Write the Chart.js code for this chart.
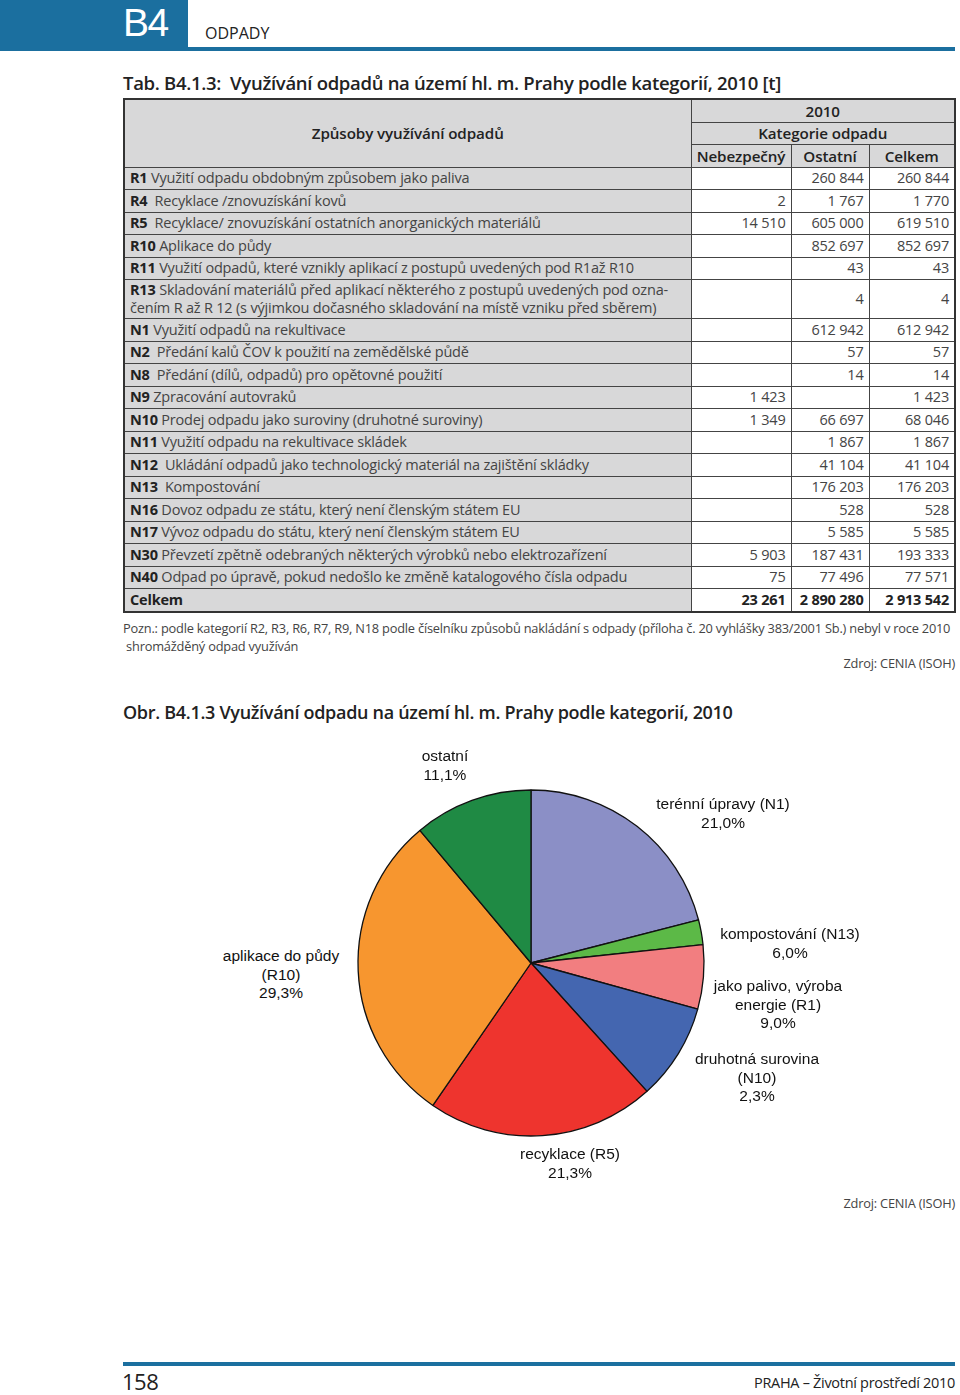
<!DOCTYPE html>
<html lang="cs">
<head>
<meta charset="utf-8">
<script src="https://cdn.jsdelivr.net/npm/chart.js@4"></script>
<style>
  body { margin: 0; background: #fff; }
  #page { position: relative; width: 960px; height: 1395px; font-family: "Open Sans", "Noto Sans", sans-serif; color: #333; overflow: hidden; }
  .abs { position: absolute; }
  #tab { position: absolute; left: 123px; top: 98px; width: 831px; border-collapse: collapse; table-layout: fixed; border: 2.5px solid #333; font-size: 14.5px; letter-spacing: -0.2px; }
  #tab td, #tab th { border: 1px solid #444; padding: 0 5px; height: 21.5px; line-height: 16px; white-space: nowrap; }
  #tab th { background: #d8d8d9; font-weight: 600; color: #222; font-size: 15.2px; text-align: center; letter-spacing: -0.1px; }
  #tab td.n { text-align: right; background: #fff; color: #444; }
  #tab td.t { background: #d8d8d9; color: #444; }
  #tab td.t b { color: #222; font-weight: 700; }
  #tab td.two { height: 38px; line-height: 18px; }
  #tab tr.tot td { font-weight: 700; color: #222; }
  .lbl { position: absolute; font-family: "Liberation Sans", Arial, sans-serif; font-size: 15.5px; line-height: 18.6px; color: #111; text-align: center; transform: translateX(-50%); white-space: nowrap; }
</style>
</head>
<body>
<div id="page">
  <div class="abs" style="left:0;top:0;width:188px;height:51px;background:#1b6f9f;">
    <div style="position:absolute;left:123px;top:1px;font-family:'Liberation Sans',Arial,sans-serif;font-size:39px;color:#fff;letter-spacing:-1.5px;line-height:44px;">B4</div>
  </div>
  <div class="abs" style="left:188px;top:47px;width:767px;height:4px;background:#1b6f9f;"></div>
  <div class="abs" style="left:205px;top:22px;font-size:16px;color:#222;">ODPADY</div>

  <div class="abs" style="left:123px;top:70px;font-size:18.5px;font-weight:600;color:#222;letter-spacing:-0.3px;">Tab. B4.1.3:&nbsp; Využívání odpadů na území hl. m. Prahy podle kategorií, 2010 [t]</div>

  <table id="tab">
    <colgroup><col style="width:567px"><col style="width:100px"><col style="width:78px"><col style="width:86px"></colgroup>
    <tbody id="tbody">
      <tr><th rowspan="3">Způsoby využívání odpadů</th><th colspan="3">2010</th></tr>
      <tr><th colspan="3">Kategorie odpadu</th></tr>
      <tr><th>Nebezpečný</th><th>Ostatní</th><th>Celkem</th></tr>
    </tbody>
  </table>

  <div class="abs" style="left:123px;top:620px;font-size:12.8px;color:#444;letter-spacing:-0.2px;line-height:17.5px;">Pozn.: podle kategorií R2, R3, R6, R7, R9, N18 podle číselníku způsobů nakládání s odpady (příloha č. 20 vyhlášky 383/2001 Sb.) nebyl v roce 2010<br>&nbsp;shromážděný odpad využíván</div>
  <div class="abs" style="right:5px;top:654px;font-size:12.8px;color:#444;letter-spacing:-0.2px;">Zdroj: CENIA (ISOH)</div>

  <div class="abs" style="left:123px;top:700px;font-size:18px;font-weight:600;color:#222;letter-spacing:-0.3px;">Obr. B4.1.3 Využívání odpadu na území hl. m. Prahy podle kategorií, 2010</div>

  <div class="abs" style="left:341px;top:773px;width:380px;height:380px;"><canvas id="pie" width="380" height="380"></canvas></div>
  <div id="labels"></div>

  <div class="abs" style="right:5px;top:1194px;font-size:12.8px;color:#444;letter-spacing:-0.2px;">Zdroj: CENIA (ISOH)</div>

  <div class="abs" style="left:123px;top:1362px;width:832px;height:4px;background:#1b6f9f;"></div>
  <div class="abs" style="left:122px;top:1366px;font-size:22px;color:#222;letter-spacing:-0.5px;">158</div>
  <div class="abs" style="right:5px;top:1373px;font-size:14.5px;color:#222;letter-spacing:-0.3px;">PRAHA – Životní prostředí 2010</div>
</div>

<script>
// tabulka – kódy, popisy a hodnoty [t]
const codes = ["R1", "R4", "R5", "R10", "R11", "R13", "N1", "N2", "N8", "N9", "N10", "N11", "N12", "N13", "N16", "N17", "N30", "N40"];
const descs = [
  "Využití odpadu obdobným způsobem jako paliva",
  "&nbsp;Recyklace /znovuzískání kovů",
  "&nbsp;Recyklace/ znovuzískání ostatních anorganických materiálů",
  "Aplikace do půdy",
  "Využití odpadů, které vznikly aplikací z postupů uvedených pod R1až R10",
  "Skladování materiálů před aplikací některého z postupů uvedených pod ozna-<br>čením R až R 12 (s výjimkou dočasného skladování na místě vzniku před sběrem)",
  "Využití odpadů na rekultivace",
  "&nbsp;Předání kalů ČOV k použití na zemědělské půdě",
  "&nbsp;Předání (dílů, odpadů) pro opětovné použití",
  "Zpracování autovraků",
  "Prodej odpadu jako suroviny (druhotné suroviny)",
  "Využití odpadu na rekultivace skládek",
  "&nbsp;Ukládání odpadů jako technologický materiál na zajištění skládky",
  "&nbsp;Kompostování",
  "Dovoz odpadu ze státu, který není členským státem EU",
  "Vývoz odpadu do státu, který není členským státem EU",
  "Převzetí zpětně odebraných některých výrobků nebo elektrozařízení",
  "Odpad po úpravě, pokud nedošlo ke změně katalogového čísla odpadu"
];
const nebezpecny = ["", "2", "14 510", "", "", "", "", "", "", "1 423", "1 349", "", "", "", "", "", "5 903", "75"];
const ostatni = ["260 844", "1 767", "605 000", "852 697", "43", "4", "612 942", "57", "14", "", "66 697", "1 867", "41 104", "176 203", "528", "5 585", "187 431", "77 496"];
const celkem = ["260 844", "1 770", "619 510", "852 697", "43", "4", "612 942", "57", "14", "1 423", "68 046", "1 867", "41 104", "176 203", "528", "5 585", "193 333", "77 571"];
const totals = ["23 261", "2 890 280", "2 913 542"];

// graf – podíly výsečí (%) po směru hodinových ručiček od 12 h
const sliceValues = [21.0, 2.3, 6.0, 9.0, 21.3, 29.3, 11.1];
const sliceColors = ["#8b8fc6", "#5cb947", "#f27e80", "#4466b0", "#ee342e", "#f7962f", "#1f8a44"];
const labelTexts = [
  ["terénní úpravy (N1)", "21,0%"],
  ["kompostování (N13)", "6,0%"],
  ["jako palivo, výroba", "energie (R1)", "9,0%"],
  ["druhotná surovina", "(N10)", "2,3%"],
  ["recyklace (R5)", "21,3%"],
  ["aplikace do půdy", "(R10)", "29,3%"],
  ["ostatní", "11,1%"]
];
const labelPos = [[723, 795], [790, 925], [778, 977], [757, 1050], [570, 1145], [281, 947], [445, 747]];

let rows = "";
for (let i = 0; i < codes.length; i++) {
  const cls = i == 5 ? "t two" : "t";
  rows += `<tr><td class="${cls}"><b>${codes[i]}</b> ${descs[i]}</td><td class="n">${nebezpecny[i]}</td><td class="n">${ostatni[i]}</td><td class="n">${celkem[i]}</td></tr>`;
}
rows += `<tr class="tot"><td class="t">Celkem</td><td class="n">${totals[0]}</td><td class="n">${totals[1]}</td><td class="n">${totals[2]}</td></tr>`;
document.getElementById("tbody").insertAdjacentHTML("beforeend", rows);

let lblHTML = "";
labelTexts.forEach((t, i) => {
  lblHTML += `<div class="lbl" style="left:${labelPos[i][0]}px;top:${labelPos[i][1]}px">${t.join("<br>")}</div>`;
});
document.getElementById("labels").innerHTML = lblHTML;

new Chart(document.getElementById("pie").getContext("2d"), {
  type: "pie",
  data: {
    labels: labelTexts.map(t => t.slice(0, -1).join(" ")),
    datasets: [{
      data: sliceValues,
      backgroundColor: sliceColors,
      borderColor: "#111",
      borderWidth: 1.3
    }]
  },
  options: {
    responsive: false,
    animation: false,
    radius: 173,
    layout: { padding: 0 },
    plugins: { legend: { display: false }, tooltip: { enabled: false } }
  }
});
</script>
</body>
</html>
